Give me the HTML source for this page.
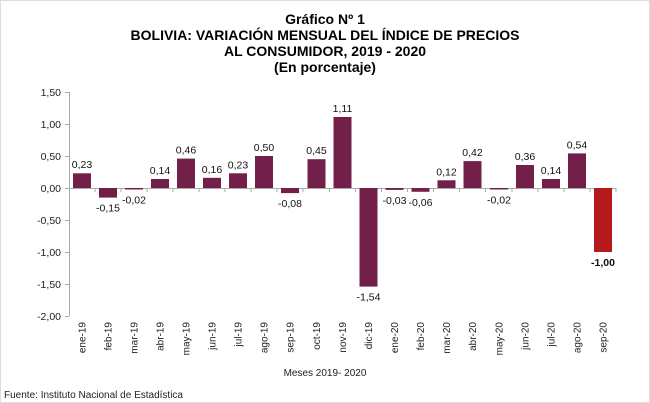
<!DOCTYPE html>
<html><head><meta charset="utf-8"><style>
body{margin:0;background:#fff;}
svg{display:block;font-family:"Liberation Sans",Arial,sans-serif;}
</style></head><body>
<svg width="650" height="403" viewBox="0 0 650 403" xmlns="http://www.w3.org/2000/svg">
<rect x="0" y="0" width="650" height="403" fill="#fff"/>
<rect x="0.5" y="0.5" width="649" height="402" fill="none" stroke="#ddd"/>
<g font-weight="bold" font-size="14" text-anchor="middle" fill="#000">
<text x="325" y="24">Gráfico Nº 1</text>
<text x="325" y="40">BOLIVIA: VARIACIÓN MENSUAL DEL ÍNDICE DE PRECIOS</text>
<text x="325" y="56">AL CONSUMIDOR, 2019 - 2020</text>
<text x="325" y="72">(En porcentaje)</text>
</g>
<g font-size="10.5" fill="#222" text-anchor="end">
<text x="61" y="96">1,50</text><text x="61" y="128">1,00</text><text x="61" y="160">0,50</text>
<text x="61" y="192">0,00</text><text x="61" y="224">-0,50</text><text x="61" y="256">-1,00</text>
<text x="61" y="288">-1,50</text><text x="61" y="320">-2,00</text>
</g>
<g stroke="#aaa" stroke-width="1">
<line x1="69.5" y1="92" x2="69.5" y2="316"/>
<line x1="65" y1="92.5" x2="69" y2="92.5"/><line x1="65" y1="124.5" x2="69" y2="124.5"/>
<line x1="65" y1="156.5" x2="69" y2="156.5"/><line x1="65" y1="188.5" x2="69" y2="188.5"/>
<line x1="65" y1="220.5" x2="69" y2="220.5"/><line x1="65" y1="252.5" x2="69" y2="252.5"/>
<line x1="65" y1="284.5" x2="69" y2="284.5"/><line x1="65" y1="316.5" x2="69" y2="316.5"/>
<line x1="69" y1="188.5" x2="616" y2="188.5"/>
<line x1="95" y1="188" x2="95" y2="192"/><line x1="121" y1="188" x2="121" y2="192"/>
<line x1="147" y1="188" x2="147" y2="192"/><line x1="173" y1="188" x2="173" y2="192"/>
<line x1="199" y1="188" x2="199" y2="192"/><line x1="225" y1="188" x2="225" y2="192"/>
<line x1="251" y1="188" x2="251" y2="192"/><line x1="277" y1="188" x2="277" y2="192"/>
<line x1="303" y1="188" x2="303" y2="192"/><line x1="329.5" y1="188" x2="329.5" y2="192"/>
<line x1="355.5" y1="188" x2="355.5" y2="192"/><line x1="381.5" y1="188" x2="381.5" y2="192"/>
<line x1="407.5" y1="188" x2="407.5" y2="192"/><line x1="433.5" y1="188" x2="433.5" y2="192"/>
<line x1="459.5" y1="188" x2="459.5" y2="192"/><line x1="485.5" y1="188" x2="485.5" y2="192"/>
<line x1="512" y1="188" x2="512" y2="192"/><line x1="538" y1="188" x2="538" y2="192"/>
<line x1="564" y1="188" x2="564" y2="192"/><line x1="590" y1="188" x2="590" y2="192"/>
<line x1="616" y1="188" x2="616" y2="192"/>
</g>
<g fill="#72204a">
<rect x="73" y="173.3" width="18" height="14.7"/>
<rect x="99" y="188" width="18" height="9.6"/>
<rect x="125" y="188" width="18" height="1.5"/>
<rect x="151" y="179" width="18" height="9"/>
<rect x="177" y="158.6" width="18" height="29.4"/>
<rect x="203" y="177.8" width="18" height="10.2"/>
<rect x="229" y="173.3" width="18" height="14.7"/>
<rect x="255" y="156" width="18" height="32"/>
<rect x="281" y="188" width="18" height="5.1"/>
<rect x="307.5" y="159.2" width="18" height="28.8"/>
<rect x="333.5" y="117" width="18" height="71"/>
<rect x="359.5" y="188" width="18" height="98.6"/>
<rect x="385.5" y="188" width="18" height="1.9"/>
<rect x="411.5" y="188" width="18" height="3.8"/>
<rect x="437.5" y="180.3" width="18" height="7.7"/>
<rect x="463.5" y="161.1" width="18" height="26.9"/>
<rect x="490" y="188" width="18" height="1.5"/>
<rect x="516" y="165" width="18" height="23"/>
<rect x="542" y="179" width="18" height="9"/>
<rect x="568" y="153.4" width="18" height="34.6"/>
<rect x="594" y="188" width="18" height="64" fill="#b5191c"/>
</g>
<g font-size="10.5" text-anchor="middle" fill="#111">
<text x="82" y="168">0,23</text>
<text x="108" y="211.6">-0,15</text>
<text x="134" y="203.5">-0,02</text>
<text x="160" y="174">0,14</text>
<text x="186" y="153.6">0,46</text>
<text x="212" y="172.8">0,16</text>
<text x="238" y="168.3">0,23</text>
<text x="264" y="151">0,50</text>
<text x="290" y="207.1">-0,08</text>
<text x="316.5" y="154.2">0,45</text>
<text x="342.5" y="112">1,11</text>
<text x="368.5" y="300.6">-1,54</text>
<text x="394.5" y="203.9">-0,03</text>
<text x="420.5" y="205.8">-0,06</text>
<text x="446.5" y="175.3">0,12</text>
<text x="472.5" y="156.1">0,42</text>
<text x="499" y="203.5">-0,02</text>
<text x="525" y="160">0,36</text>
<text x="551" y="174">0,14</text>
<text x="577" y="148.4">0,54</text>
<text x="603" y="266" font-weight="bold">-1,00</text>
</g>
<g font-size="10" text-anchor="end" fill="#222">
<text transform="translate(85.5,322) rotate(-90)">ene-19</text>
<text transform="translate(111.5,322) rotate(-90)">feb-19</text>
<text transform="translate(137.5,322) rotate(-90)">mar-19</text>
<text transform="translate(163.5,322) rotate(-90)">abr-19</text>
<text transform="translate(189.5,322) rotate(-90)">may-19</text>
<text transform="translate(215.5,322) rotate(-90)">jun-19</text>
<text transform="translate(241.5,322) rotate(-90)">jul-19</text>
<text transform="translate(267.5,322) rotate(-90)">ago-19</text>
<text transform="translate(293.5,322) rotate(-90)">sep-19</text>
<text transform="translate(320,322) rotate(-90)">oct-19</text>
<text transform="translate(346,322) rotate(-90)">nov-19</text>
<text transform="translate(372,322) rotate(-90)">dic-19</text>
<text transform="translate(398,322) rotate(-90)">ene-20</text>
<text transform="translate(424,322) rotate(-90)">feb-20</text>
<text transform="translate(450,322) rotate(-90)">mar-20</text>
<text transform="translate(476,322) rotate(-90)">abr-20</text>
<text transform="translate(502.5,322) rotate(-90)">may-20</text>
<text transform="translate(528.5,322) rotate(-90)">jun-20</text>
<text transform="translate(554.5,322) rotate(-90)">jul-20</text>
<text transform="translate(580.5,322) rotate(-90)">ago-20</text>
<text transform="translate(606.5,322) rotate(-90)">sep-20</text>
</g>
<text x="325" y="376" font-size="10" text-anchor="middle" fill="#222">Meses 2019- 2020</text>
<text x="4" y="398" font-size="10" fill="#222">Fuente: Instituto Nacional de Estadística</text>
</svg>
</body></html>
